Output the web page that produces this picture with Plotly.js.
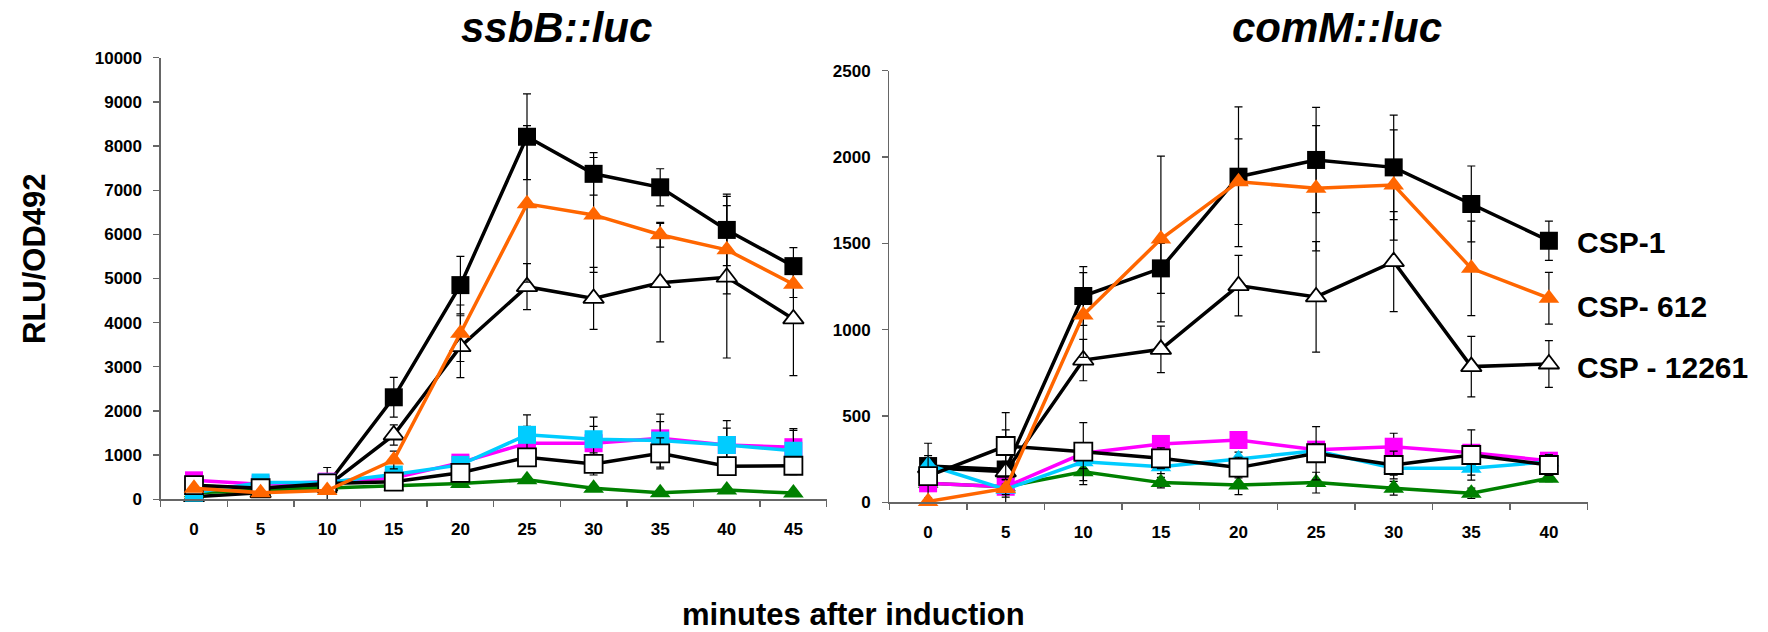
<!DOCTYPE html>
<html>
<head>
<meta charset="utf-8">
<script src="https://cdn.plot.ly/plotly-3.0.1.min.js"></script>
<style>html,body{margin:0;padding:0;background:#fff;}#chart{width:1768px;height:632px;}</style>
</head>
<body>
<div id="chart"></div>
<script>
// ---------- DATA ----------
const timesL = ['0','5','10','15','20','25','30','35','40','45'];
const timesR = ['0','5','10','15','20','25','30','35','40'];

// ssbB::luc (left panel)
const csp1L      = [300, 250, 330, 2310, 4850, 8210, 7370, 7065, 6100, 5280];
const csp1LErr   = [80, 60, 390, 450, 650, 970, 480, 420, 810, 420];
const csp612L    = [250, 150, 200, 890, 3760, 6690, 6440, 5990, 5650, 4870];
const csp612LErr = [60, 50, 60, 200, 640, 1770, 1300, 280, 1000, 300];
const csp12261L    = [60, 150, 300, 1456, 3456, 4815, 4550, 4905, 5030, 4085];
const csp12261LErr = [60, 60, 80, 230, 700, 520, 700, 1340, 1830, 1285];
const magentaL    = [430, 340, 400, 480, 830, 1270, 1270, 1380, 1230, 1180];
const magentaLErr = [80, 60, 80, 100, 150, 380, 380, 380, 380, 380];
const cyanL    = [150, 380, 380, 560, 780, 1460, 1360, 1330, 1230, 1100];
const cyanLErr = [50, 50, 50, 100, 150, 450, 500, 600, 550, 500];
const whiteSqL    = [320, 250, 360, 400, 600, 950, 800, 1040, 750, 760];
const whiteSqLErr = [80, 60, 100, 100, 150, 200, 250, 350, 200, 200];
const greenL    = [150, 200, 250, 300, 360, 440, 250, 150, 210, 140];
const greenLErr = [30, 30, 40, 50, 60, 60, 50, 40, 40, 30];

// comM::luc (right panel)
const csp1R      = [210, 190, 1195, 1355, 1886, 1983, 1940, 1728, 1515];
const csp1RErr   = [60, 230, 170, 145, 405, 305, 303, 220, 114];
const csp612R    = [5, 80, 1085, 1525, 1857, 1819, 1838, 1355, 1182];
const csp612RErr = [20, 50, 245, 480, 248, 363, 319, 274, 150];
const csp12261R    = [200, 177, 824, 886, 1255, 1190, 1394, 786, 801];
const csp12261RErr = [55, 60, 120, 135, 175, 320, 290, 175, 135];
const magentaR    = [110, 90, 284, 338, 361, 305, 322, 287, 241];
const magentaRErr = [30, 30, 40, 40, 40, 40, 78, 40, 30];
const cyanR    = [216, 75, 235, 206, 251, 299, 197, 197, 235];
const cyanRErr = [30, 30, 40, 40, 40, 40, 40, 40, 30];
const whiteSqR    = [152, 326, 293, 255, 201, 284, 216, 274, 216];
const whiteSqRErr = [190, 193, 168, 60, 60, 154, 80, 145, 60];
const greenR    = [110, 90, 177, 114, 100, 114, 81, 52, 139];
const greenRErr = [30, 30, 75, 30, 55, 60, 40, 30, 20];

const legendLabels = ['CSP-1', 'CSP- 612', 'CSP - 12261'];
const titles = ['ssbB::luc', 'comM::luc'];

// ---------- STYLE ----------
const FONT = 'Liberation Sans, Arial, Helvetica, sans-serif';
const W = 1768, H = 632;

function tr(x, y, err, ax, color, symbol, fill, outline) {
  return {
    type: 'scatter', mode: 'lines+markers',
    x: x, y: y,
    xaxis: ax === 1 ? 'x' : 'x2', yaxis: ax === 1 ? 'y' : 'y2',
    line: {color: color, width: 3.5},
    marker: {symbol: symbol, size: 18, color: fill,
             line: {color: outline, width: outline === fill ? 0 : 1.8}},
    error_y: {type: 'data', array: err, visible: true, color: '#000', thickness: 1.2, width: 4},
    cliponaxis: false, hoverinfo: 'x+y'
  };
}

const data = [
  // left
  tr(timesL, csp1L, csp1LErr, 1, '#000', 'square', '#000', '#000'),
  tr(timesL, csp12261L, csp12261LErr, 1, '#000', 'triangle-up', '#fff', '#000'),
  tr(timesL, greenL, greenLErr, 1, '#008000', 'triangle-up', '#008000', '#008000'),
  tr(timesL, magentaL, magentaLErr, 1, '#ff00ff', 'square', '#ff00ff', '#ff00ff'),
  tr(timesL, cyanL, cyanLErr, 1, '#00ccff', 'square', '#00ccff', '#00ccff'),
  tr(timesL, whiteSqL, whiteSqLErr, 1, '#000', 'square', '#fff', '#000'),
  tr(timesL, csp612L, csp612LErr, 1, '#ff6600', 'triangle-up', '#ff6600', '#ff6600'),
  // right
  tr(timesR, csp1R, csp1RErr, 2, '#000', 'square', '#000', '#000'),
  tr(timesR, csp12261R, csp12261RErr, 2, '#000', 'triangle-up', '#fff', '#000'),
  tr(timesR, greenR, greenRErr, 2, '#008000', 'triangle-up', '#008000', '#008000'),
  tr(timesR, magentaR, magentaRErr, 2, '#ff00ff', 'square', '#ff00ff', '#ff00ff'),
  tr(timesR, cyanR, cyanRErr, 2, '#00ccff', 'triangle-up', '#00ccff', '#00ccff'),
  tr(timesR, whiteSqR, whiteSqRErr, 2, '#000', 'square', '#fff', '#000'),
  tr(timesR, csp612R, csp612RErr, 2, '#ff6600', 'triangle-up', '#ff6600', '#ff6600')
];

const tickfont = {family: FONT, size: 17, color: '#000', weight: 'bold'};
function xax(l, r, n, anchor) {
  return {domain: [l / W, r / W], anchor: anchor, type: 'category', range: [-0.5, n - 0.5],
    tickson: 'boundaries', ticks: 'outside', ticklen: 6, tickwidth: 1.3, tickcolor: '#666',
    showline: true, linecolor: '#666', linewidth: 1.3, showgrid: false, zeroline: false,
    tickfont: tickfont, ticklabelstandoff: 14, fixedrange: true};
}
function yax(top, bottom, max, dtick, anchor) {
  return {domain: [(H - bottom) / H, (H - top) / H], anchor: anchor, range: [0, max], dtick: dtick, tick0: 0,
    tickformat: 'd',
    ticks: 'outside', ticklen: 6, tickwidth: 1.3, tickcolor: '#666',
    showline: true, linecolor: '#666', linewidth: 1.3, showgrid: false, zeroline: false,
    tickfont: tickfont, ticklabelstandoff: 8, fixedrange: true};
}

function ann(text, x, y, size, opts) {
  return Object.assign({text: text, xref: 'paper', yref: 'paper', x: x / W, y: (H - y) / H,
    showarrow: false, xanchor: 'center', yanchor: 'middle', borderpad: 0,
    font: {family: FONT, size: size, color: '#000', weight: 'bold'}}, opts || {});
}

const annotations = [
  ann('<i>' + titles[0] + '</i>', 556, 27, 42),
  ann('<i>' + titles[1] + '</i>', 1337, 27, 42),
  ann('RLU/OD492', 34, 259, 31, {textangle: -90}),
  ann('minutes after induction', 853, 614, 31),
  ann(legendLabels[0], 1576, 242, 30, {xanchor: 'left'}),
  ann(legendLabels[1], 1576, 306, 30, {xanchor: 'left'}),
  ann(legendLabels[2], 1576, 367, 30, {xanchor: 'left'})
];

const layout = {
  width: W, height: H,
  margin: {l: 0, r: 0, t: 0, b: 0},
  paper_bgcolor: '#fff', plot_bgcolor: '#fff',
  showlegend: false,
  xaxis: xax(160.7, 826.7, timesL.length, 'y'),
  yaxis: yax(57.7, 499.3, 10000, 1000, 'x'),
  xaxis2: xax(889.3, 1587.7, timesR.length, 'y2'),
  yaxis2: yax(70.7, 502.3, 2500, 500, 'x2'),
  annotations: annotations
};

Plotly.newPlot('chart', data, layout, {displayModeBar: false, staticPlot: true});
</script>
</body>
</html>
